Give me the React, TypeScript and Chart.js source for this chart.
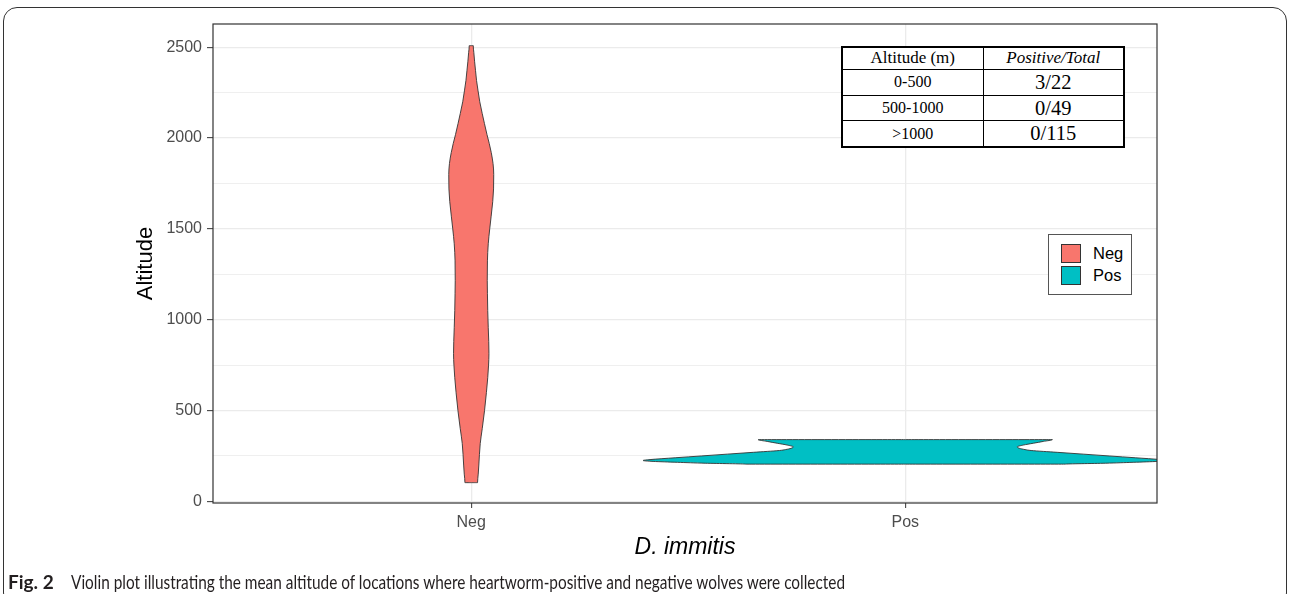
import React, { useEffect, useLayoutEffect, useRef } from 'react';
import { Chart, registerables } from 'chart.js';

Chart.register(...registerables);

// ---------- data ----------
const categories = ['Neg', 'Pos'];
const categoryColors = ['#F8766D', '#00BFC4'];
const xAxisTitle = 'D. immitis';
const yAxisTitle = 'Altitude';
const yTickLabels = [0, 500, 1000, 1500, 2000, 2500];

// violin outlines: altitude (ascending) and half width (in category units)
const negAltitude = [103, 150, 200, 318, 400, 499, 600, 681, 750, 813, 880, 956, 1050, 1143, 1215, 1324, 1418, 1500, 1570, 1650, 1720, 1800, 1860, 1920, 1970, 2020, 2080, 2135, 2200, 2260, 2317, 2371, 2420, 2470, 2509];
const negHalfWidth = [0.0145, 0.0161, 0.0175, 0.0207, 0.0253, 0.0306, 0.035, 0.038, 0.0399, 0.0408, 0.0403, 0.0392, 0.038, 0.0373, 0.0369, 0.0373, 0.0392, 0.0426, 0.0459, 0.0495, 0.0514, 0.0518, 0.0502, 0.0461, 0.0415, 0.0362, 0.0304, 0.0253, 0.0196, 0.0157, 0.0122, 0.0099, 0.0078, 0.006, 0.0046];

const posAltitude = [205, 210, 215, 220, 225, 230, 240, 250, 260, 270, 280, 285, 292, 300, 310, 320, 330, 340];
const posHalfWidth = [0.369, 0.461, 0.525, 0.581, 0.604, 0.588, 0.53, 0.47, 0.41, 0.35, 0.29, 0.276, 0.263, 0.258, 0.272, 0.295, 0.318, 0.339];

// inset table
const tableHeader = ['Altitude (m)', 'Positive/Total'];
const altitudeBands = ['0-500', '500-1000', '>1000'];
const positiveTotals = ['3/22', '0/49', '0/115'];

// caption
const captionLabel = 'Fig. 2';
const captionText = 'Violin plot illustrating the mean altitude of locations where heartworm-positive and negative wolves were collected';

// ---------- helpers ----------
function violinDatasets(center: number, alt: number[], hw: number[], color: string) {
  const n = alt.length;
  const edge = (sign: number) => [
    { x: center, y: alt[0] },
    ...alt.map((a, i) => ({ x: center + sign * hw[i], y: a })),
    { x: center, y: alt[n - 1] },
  ];
  const common = {
    borderColor: '#333333',
    borderWidth: 0.9,
    pointRadius: 0,
    cubicInterpolationMode: 'monotone' as const,
    borderJoinStyle: 'round' as const,
    clip: 0,
  };
  return [
    { ...common, label: categories[center - 1] + '-l', data: edge(-1), fill: false, backgroundColor: color },
    { ...common, label: categories[center - 1] + '-r', data: edge(1), fill: '-1', backgroundColor: color },
  ];
}

const panelBorder = {
  id: 'panelBorder',
  afterDatasetsDraw(chart: any) {
    const { ctx, chartArea: a } = chart;
    ctx.save();
    ctx.strokeStyle = '#333333';
    ctx.lineWidth = 1.2;
    ctx.strokeRect(a.left, a.top, a.right - a.left, a.bottom - a.top);
    ctx.restore();
  },
};

export default function App() {
  const canvasRef = useRef<HTMLCanvasElement>(null);
  const capRef = useRef<HTMLSpanElement>(null);

  useLayoutEffect(() => {
    const fit = () => {
      const el = capRef.current;
      if (!el) return;
      el.style.transform = 'none';
      const w = el.getBoundingClientRect().width;
      if (w > 0) el.style.transform = `scaleX(${774 / w})`;
    };
    fit();
    if ((document as any).fonts && (document as any).fonts.ready) (document as any).fonts.ready.then(fit);
  }, []);

  useEffect(() => {
    if (!canvasRef.current) return;
    Chart.defaults.font.family = '"Liberation Sans", Arial, sans-serif';
    const chart = new Chart(canvasRef.current, {
      type: 'line',
      data: {
        datasets: [
          ...violinDatasets(1, negAltitude, negHalfWidth, categoryColors[0]),
          ...violinDatasets(2, posAltitude, posHalfWidth, categoryColors[1]),
        ] as any,
      },
      options: {
        indexAxis: 'y',
        animation: false,
        responsive: true,
        maintainAspectRatio: false,
        events: [],
        layout: { padding: { left: 133, right: 133, top: 24, bottom: 33 } },
        plugins: {
          legend: { display: false },
          tooltip: { enabled: false },
          filler: { drawTime: 'beforeDatasetsDraw' },
        } as any,
        scales: {
          x: {
            type: 'linear',
            min: 0.405,
            max: 2.58,
            afterBuildTicks: (s: any) => {
              s.ticks = categories.map((_, i) => ({ value: i + 1 }));
            },
            afterFit: (s: any) => {
              s.height = 58;
            },
            ticks: {
              autoSkip: false,
              maxRotation: 0,
              color: '#4D4D4D',
              font: { size: 16 },
              padding: 5,
              callback: (v: any) => categories[Math.round(Number(v)) - 1] ?? '',
            },
            grid: { color: '#EBEBEB', lineWidth: 1.3, tickLength: 5, tickColor: '#333333', tickWidth: 1 },
            border: { display: false },
            title: { display: true, text: xAxisTitle, color: '#000000', font: { size: 23, style: 'italic' }, padding: 0 },
          },
          y: {
            type: 'linear',
            min: -9,
            max: 2628,
            afterFit: (s: any) => {
              s.width = 80;
            },
            ticks: {
              stepSize: 250,
              includeBounds: false,
              autoSkip: false,
              color: '#4D4D4D',
              font: { size: 16 },
              padding: 5,
              callback: (v: any) => (yTickLabels.includes(Number(v)) ? String(v) : ''),
            },
            grid: {
              color: '#EBEBEB',
              lineWidth: (c: any) => (c.tick && yTickLabels.includes(c.tick.value) ? 1.3 : 0.8),
              tickLength: 6,
              tickWidth: 1,
              tickColor: (c: any) => (c.tick && yTickLabels.includes(c.tick.value) ? '#333333' : 'rgba(0,0,0,0)'),
            },
            border: { display: false },
            title: { display: true, text: yAxisTitle, color: '#000000', font: { size: 22 }, padding: 0 },
          },
        } as any,
      },
      plugins: [panelBorder],
    });
    return () => chart.destroy();
  }, []);

  const serif = '"Liberation Serif", "Times New Roman", serif';
  const cellBase: React.CSSProperties = { border: '1.5px solid #000', textAlign: 'center', padding: 0, fontFamily: serif, color: '#000' };
  const rowHeights = [26.6, 25, 26.4];

  return (
    <div style={{ position: 'fixed', left: 0, top: 0, width: 1290, height: 594, background: '#fff', overflow: 'hidden' }}>
      <div style={{ position: 'absolute', left: 3, top: 7, width: 1284, height: 600, border: '1px solid #333', borderRadius: 14, boxSizing: 'border-box' }} />
      <div style={{ position: 'absolute', left: 0, top: 0, width: 1290, height: 594 }}>
        <canvas ref={canvasRef} />
      </div>

      {/* inset table */}
      <table
        style={{
          position: 'absolute', left: 841, top: 46, width: 284, height: 100, borderCollapse: 'collapse',
          border: '2px solid #000', background: '#fff', tableLayout: 'fixed',
        }}
      >
        <tbody>
          <tr style={{ height: 22 }}>
            <td style={{ ...cellBase, fontSize: 17 }}>{tableHeader[0]}</td>
            <td style={{ ...cellBase, fontSize: 17, fontStyle: 'italic' }}>{tableHeader[1]}</td>
          </tr>
          {altitudeBands.map((b, i) => (
            <tr key={b} style={{ height: rowHeights[i] }}>
              <td style={{ ...cellBase, fontSize: 16 }}>{b}</td>
              <td style={{ ...cellBase, fontSize: 20.5 }}>{positiveTotals[i]}</td>
            </tr>
          ))}
        </tbody>
      </table>

      {/* legend */}
      <div
        style={{
          position: 'absolute', left: 1048, top: 234, width: 84, height: 61, boxSizing: 'border-box',
          border: '1px solid #555', background: '#fff', fontFamily: '"Liberation Sans", Arial, sans-serif',
        }}
      >
        {categories.map((c, i) => (
          <div key={c} style={{ position: 'absolute', left: 12, top: 8 + i * 22, height: 20, display: 'flex', alignItems: 'center' }}>
            <div style={{ width: 20, height: 19, boxSizing: 'border-box', background: categoryColors[i], border: '1px solid #333' }} />
            <span style={{ marginLeft: 12, fontSize: 16.5, color: '#000', lineHeight: '20px' }}>{c}</span>
          </div>
        ))}
      </div>

      {/* caption */}
      <div
        style={{
          position: 'absolute', left: 8, top: 572, whiteSpace: 'nowrap', fontFamily: 'Lato, "Open Sans", sans-serif',
          fontSize: 19, lineHeight: '20px', color: '#231F20',
        }}
      >
        <span style={{ fontWeight: 700, display: 'inline-block', width: 63 }}>{captionLabel}</span>
        <span ref={capRef} style={{ display: 'inline-block', transformOrigin: 'left center' }}>{captionText}</span>
      </div>
    </div>
  );
}
